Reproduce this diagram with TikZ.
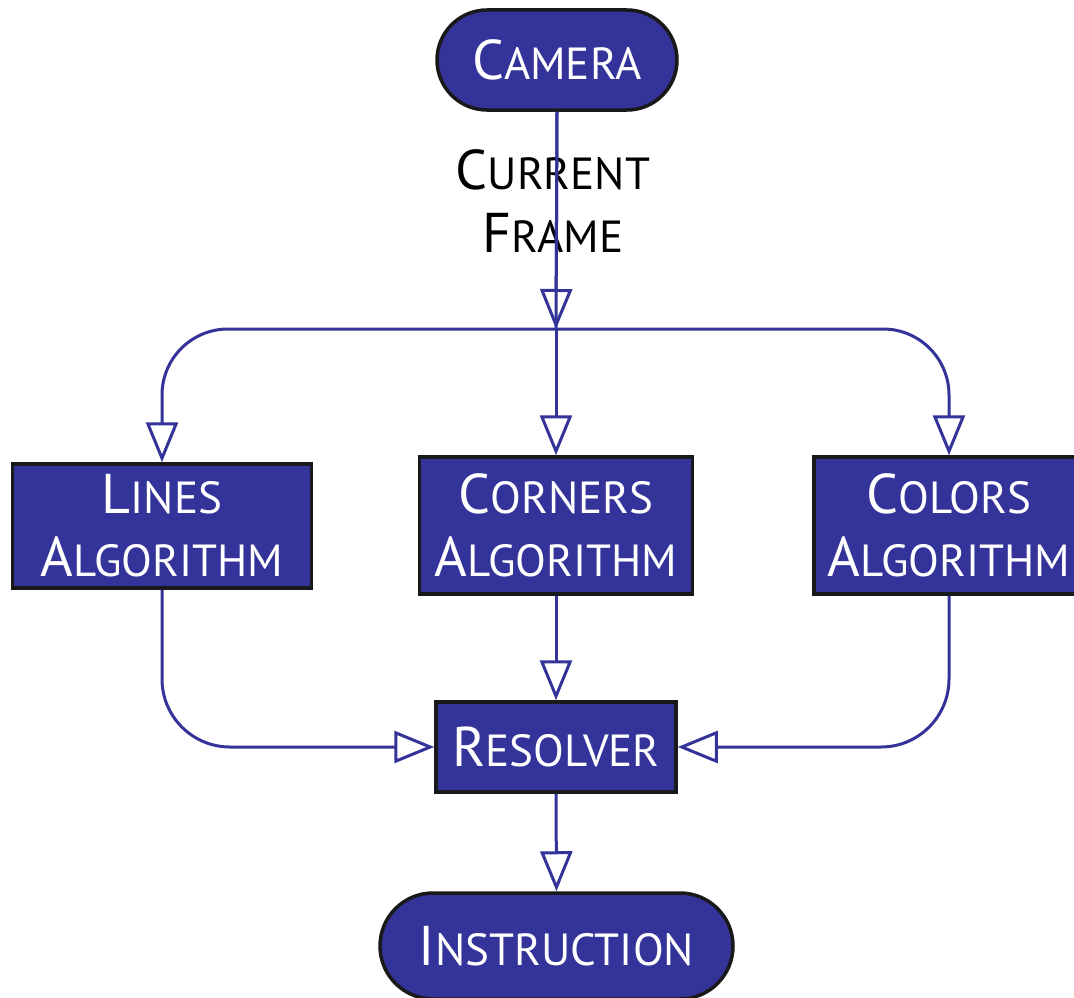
\documentclass[tikz,border=0pt]{standalone}
\usepackage{fontspec}
\setmainfont{PT Sans}
\usetikzlibrary{arrows.meta}
\definecolor{flowblue}{HTML}{333399}
% hand-made small capitals: a large initial, then smaller capitals
\newcommand\smcap[2]{{\fontsize{56}{63}\selectfont #1}{\fontsize{45}{63}\selectfont #2}}
\tikzset{
  blockbase/.style={draw=black!90, line width=3.5pt, fill=flowblue, text=white,
    align=center, inner sep=0pt, font=\fontsize{56}{63}\selectfont},
  procbox/.style={blockbase},
  pillbox/.style={blockbase, rounded corners=#1},
  conn/.style={draw=flowblue, line width=3pt,
    -{Triangle[open, width=32pt, length=40pt, line width=3pt]}},
  plainconn/.style={draw=flowblue, line width=3pt},
}
\begin{document}
\begin{tikzpicture}[x=1pt, y=-1pt]
\useasboundingbox (0,0) rectangle (1074,998);

% terminals
\node[pillbox=50pt, minimum width=240pt, minimum height=100pt] (cam) at (557,60) {\smcap{C}{AMERA}};
\node[pillbox=53pt, minimum width=353pt, minimum height=106pt] (instr) at (556.5,946) {\smcap{I}{NSTRUCTION}};

% processing blocks
\node[procbox, minimum width=299pt, minimum height=124pt] (lines) at (162,526) {\smcap{L}{INES}\\\smcap{A}{LGORITHM}};
\node[procbox, minimum width=273pt, minimum height=137pt] (corners) at (556,525.5) {\smcap{C}{ORNERS}\\\smcap{A}{LGORITHM}};
\node[procbox, minimum width=270pt, minimum height=137pt] (colors) at (949,525.5) {\smcap{C}{OLORS}\\\smcap{A}{LGORITHM}};
\node[procbox, minimum width=240pt, minimum height=90pt] (resolver) at (556,747) {\smcap{R}{ESOLVER}};

% split point of the frame stream
\coordinate (split) at (556,329);

% label on the camera output
\node[align=center, inner sep=0pt, font=\fontsize{56}{63}\selectfont] (framelabel) at (553,201) {\smcap{C}{URRENT}\\\smcap{F}{RAME}};

% camera feed into the split
\draw[plainconn] (cam.south) -- (split);
\draw[conn] (cam.south) -- (split);

% fan-out to the three algorithms
\draw[conn, rounded corners=66pt] (split) -| (lines.north);
\draw[conn] (split) -- (corners.north);
\draw[conn, rounded corners=66pt] (split) -| (colors.north);

% fan-in to the resolver
\draw[conn, rounded corners=68pt] (lines.south) |- (resolver.west);
\draw[conn] (corners.south) -- (resolver.north);
\draw[conn, rounded corners=68pt] (colors.south) |- (resolver.east);

% resolver output
\draw[conn] (resolver.south) -- (instr.north);
\end{tikzpicture}
\end{document}
